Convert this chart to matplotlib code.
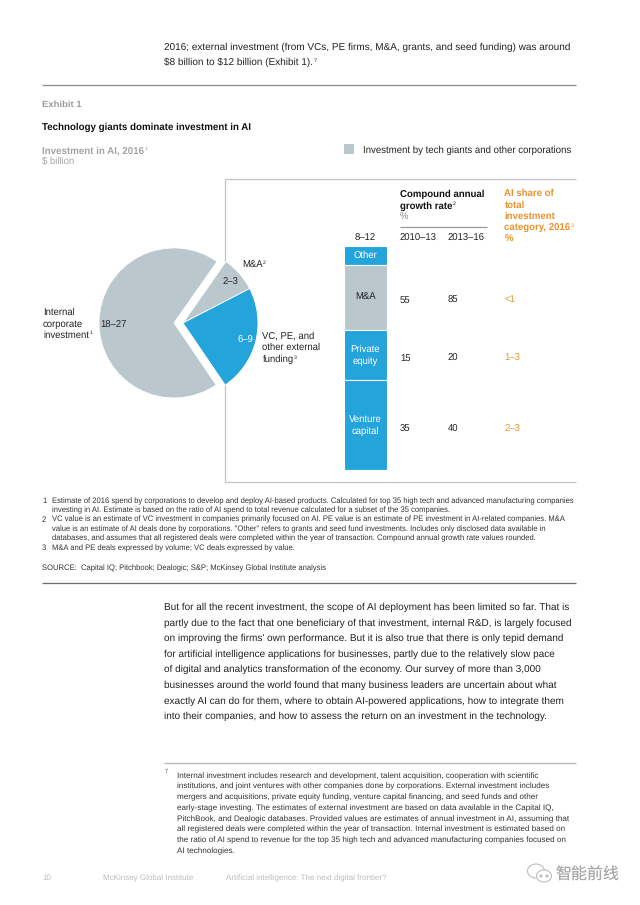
import matplotlib
matplotlib.use("Agg")
import matplotlib.pyplot as plt
from matplotlib.patches import Rectangle, Circle, Ellipse

W, H = 640, 905
BLUE = "#23a4da"
GRAY = "#bac7cd"
ORANGE = "#e8922e"
LABEL = "#a3a3a3"
DARK = "#222222"

# pie: midpoints of the ranges, $ billion
pie_names = ["M&A", "VC, PE, and other external funding", "Internal corporate investment"]
pie_ranges = ["2–3", "6–9", "18–27"]
pie_values = [2.5, 7.5, 22.5]
pie_colors = [GRAY, BLUE, GRAY]

# stacked column, top to bottom
bar_names = ["Other", "M&A", "Private\nequity", "Venture\ncapital"]
bar_values = [0.8, 2.9, 2.2, 4.0]
bar_colors = [BLUE, GRAY, BLUE, BLUE]
bar_total = "8–12"

cagr_2010_13 = ["55", "15", "35"]
cagr_2013_16 = ["85", "20", "40"]
ai_share = ["<1", "1–3", "2–3"]
row_y = [302.5, 361, 432]

intro = ["2016; external investment (from VCs, PE firms, M&A, grants, and seed funding) was around",
         "$8 billion to $12 billion (Exhibit 1)."]
notes = ["Estimate of 2016 spend by corporations to develop and deploy AI-based products. Calculated for top 35 high tech and advanced manufacturing companies",
         "investing in AI. Estimate is based on the ratio of AI spend to total revenue calculated for a subset of the 35 companies.",
         "VC value is an estimate of VC investment in companies primarily focused on AI. PE value is an estimate of PE investment in AI-related companies. M&A",
         "value is an estimate of AI deals done by corporations. \"Other\" refers to grants and seed fund investments. Includes only disclosed data available in",
         "databases, and assumes that all registered deals were completed within the year of transaction. Compound annual growth rate values rounded.",
         "M&A and PE deals expressed by volume; VC deals expressed by value."]
note_nums = {0: "1", 2: "2", 5: "3"}
body = ["But for all the recent investment, the scope of AI deployment has been limited so far. That is",
        "partly due to the fact that one beneficiary of that investment, internal R&D, is largely focused",
        "on improving the firms' own performance. But it is also true that there is only tepid demand",
        "for artificial intelligence applications for businesses, partly due to the relatively slow pace",
        "of digital and analytics transformation of the economy. Our survey of more than 3,000",
        "businesses around the world found that many business leaders are uncertain about what",
        "exactly AI can do for them, where to obtain AI-powered applications, how to integrate them",
        "into their companies, and how to assess the return on an investment in the technology."]
foot = ["Internal investment includes research and development, talent acquisition, cooperation with scientific",
        "institutions, and joint ventures with other companies done by corporations. External investment includes",
        "mergers and acquisitions, private equity funding, venture capital financing, and seed funds and other",
        "early-stage investing. The estimates of external investment are based on data available in the Capital IQ,",
        "PitchBook, and Dealogic databases. Provided values are estimates of annual investment in AI, assuming that",
        "all registered deals were completed within the year of transaction. Internal investment is estimated based on",
        "the ratio of AI spend to revenue for the top 35 high tech and advanced manufacturing companies focused on",
        "AI technologies."]

plt.rcParams["font.family"] = ["Liberation Sans", "Noto Sans CJK SC", "DejaVu Sans"]
plt.rcParams["text.hinting"] = "none"
plt.rcParams["text.hinting_factor"] = 8

fig = plt.figure(figsize=(W / 100, H / 100), dpi=100)
ax = fig.add_axes([0, 0, 1, 1])
renderer = fig.canvas.get_renderer()


def t(x, y, s, size=6.85, color=DARK, weight="normal", ha="left", sup=None, va="baseline"):
    # x, y in page pixels, y measured from the top
    txt = ax.text(x, H - y, s, fontsize=size, color=color, fontweight=weight, ha=ha, va=va,
                  parse_math=False)
    if sup:
        right = txt.get_window_extent(renderer).x1
        ax.text(right + 0.5, H - y + 3.5, sup, fontsize=size * 0.55, color=color, va="baseline")
    return txt


def line(x0, x1, y0, y1, color="#c4c4c4", lw=0.9):
    ax.plot([x0, x1], [H - y0, H - y1], color=color, lw=lw, solid_capstyle="butt")


# page rules and panel outline
line(42, 576, 85, 85, "#8a8a8a")
line(225, 576, 179, 179)
line(225, 225, 179, 482)
line(225, 576, 482, 482)
line(400, 487, 227, 227, "#9a9a9a")
line(42, 576, 583, 583, "#6f6f6f")
line(164, 576, 763, 763, "#b5b5b5")

# pie, explode is in data units here because the radius is in pixels
wedges = ax.pie(pie_values, colors=pie_colors, startangle=55, counterclock=False, radius=75,
                center=(183, H - 323), explode=[0, 0, 9], frame=True,
                wedgeprops={"edgecolor": "white", "linewidth": 0.6})[0]
for w in wedges:
    w.set_zorder(5)
ax.set_xlim(0, W)
ax.set_ylim(0, H)
ax.set_aspect("auto")
ax.axis("off")

# intro
for i, s in enumerate(intro):
    t(164, 50 + i * 15.2, s, size=7.2, sup="7" if i == 1 else None)

t(42, 107, "Exhibit 1", size=6.8, color="#9a9a9a", weight="bold")
t(42, 130, "Technology giants dominate investment in AI", size=7.0, color="#111111", weight="bold")
t(42, 153, "Investment in AI, 2016", size=7.0, color=LABEL, weight="bold", sup="1")
t(42, 164, "$ billion", color=LABEL)

# legend
ax.add_patch(Rectangle((344, H - 154), 10, 10, color=GRAY, lw=0))
t(363, 153, "Investment by tech giants and other corporations", size=6.98)

# pie labels
for lbl in [t(242, 268, "M&A", sup="2"),
            t(223, 285, pie_ranges[0]),
            t(100, 328, pie_ranges[2]),
            t(238, 343, pie_ranges[1], color="white"),
            t(43, 314.5, "Internal"),
            t(43, 326.5, "corporate"),
            t(43, 338, "investment", sup="1"),
            t(262.5, 339, "VC, PE, and"),
            t(262.5, 350, "other external"),
            t(262.5, 362, "funding", sup="3")]:
    lbl.set_zorder(6)

# stacked column gets its own axes so the heights come from the values
bar_ax = fig.add_axes([344 / W, 1 - 470.5 / H, 43 / W, 224 / H])
bottom = sum(bar_values)
for name, val, col in zip(bar_names, bar_values, bar_colors):
    bottom -= val
    bar_ax.bar(0, val, bottom=bottom, width=1, color=col, edgecolor="white", linewidth=0.8)
    bar_ax.text(0, bottom + val / 2, name, ha="center", va="center", fontsize=6.85,
                linespacing=1.35, color="#222222" if col == GRAY else "white")
bar_ax.set_xlim(-0.5, 0.5)
bar_ax.set_ylim(0, sum(bar_values))
bar_ax.axis("off")
t(365.5, 241, bar_total, ha="center")

# table
t(400, 197, "Compound annual", size=6.9, color="#111111", weight="bold")
t(400, 208.5, "growth rate", size=6.9, color="#111111", weight="bold", sup="2")
t(400, 220, "%", color="#8a8a8a")
t(400, 241, "2010–13")
t(447.5, 241, "2013–16")
for i, s in enumerate(["AI share of", "total", "investment"]):
    t(504.5, 196 + i * 11.5, s, size=6.9, color=ORANGE, weight="bold")
t(504.5, 230.5, "category, 2016", size=6.9, color=ORANGE, weight="bold", sup="3")
t(504.5, 242, "%", color=ORANGE, weight="bold")
for y, a, b, c in zip(row_y, cagr_2010_13, cagr_2013_16, ai_share):
    t(400, y, a)
    t(447.5, y, b)
    t(504.5, y, c, color=ORANGE)

# notes
for i, s in enumerate(notes):
    y = 503 + i * 9.4
    if i in note_nums:
        t(42, y, note_nums[i], size=5.5, color="#333333")
    t(52, y, s, size=5.5, color="#333333")
t(42, 570, "SOURCE:  Capital IQ; Pitchbook; Dealogic; S&P; McKinsey Global Institute analysis", size=5.5, color="#333333")

for i, s in enumerate(body):
    t(164, 610 + i * 15.6, s, size=7.2)

t(165, 773, "7", size=4, color="#444444")
for i, s in enumerate(foot):
    t(177, 778 + i * 10.75, s, size=5.85, color="#333333")

# footer
t(42, 880, "10", size=5.75, color="#bdbdbd")
t(103, 880, "McKinsey Global Institute", size=5.75, color="#bdbdbd")
t(226, 880, "Artificial intelligence: The next digital frontier?", size=5.75, color="#bdbdbd")

# watermark
ax.add_patch(Ellipse((536, H - 871), 17, 14, fill=False, ec="#bdbdbd", lw=0.8))
ax.add_patch(Ellipse((544, H - 876), 15, 12, fc="white", ec="#bdbdbd", lw=0.8))
ax.add_patch(Circle((541, H - 876), 0.9, color="#bdbdbd"))
ax.add_patch(Circle((547, H - 876), 0.9, color="#bdbdbd"))
t(556, 880, "智能前线", size=11.5, color="#a8a8a8")

fig.savefig("out.png", dpi=100)
